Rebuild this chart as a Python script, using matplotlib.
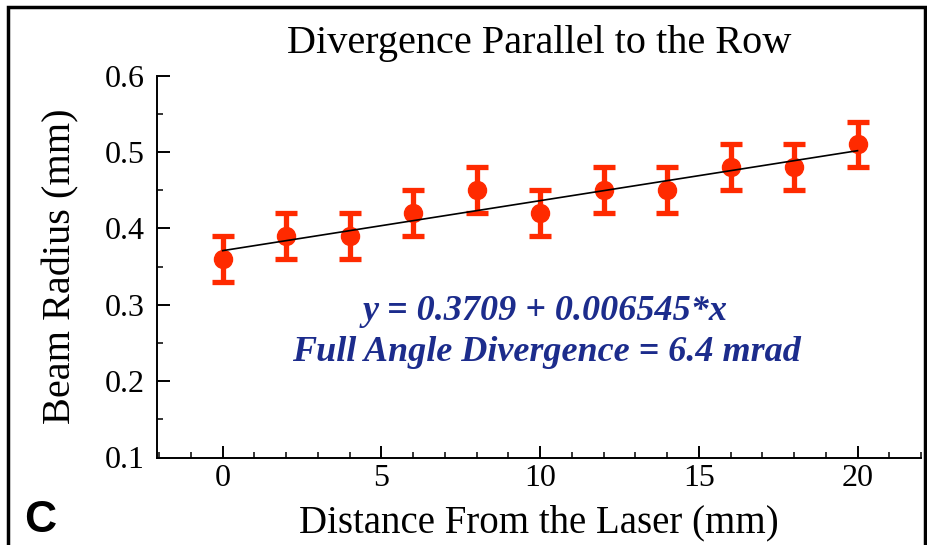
import matplotlib
matplotlib.use("Agg")
import matplotlib.pyplot as plt
from matplotlib.ticker import MultipleLocator, FormatStrFormatter
from matplotlib.patches import Rectangle

distance = [0, 2, 4, 6, 8, 10, 12, 14, 16, 18, 20]
radius = [0.36, 0.39, 0.39, 0.42, 0.45, 0.42, 0.45, 0.45, 0.48, 0.48, 0.51]
err = [0.03] * 11
intercept = 0.3709
slope = 0.006545
fit_x = [0, 20]

plt.rcParams['font.family'] = ['Liberation Serif', 'DejaVu Serif']

fig = plt.figure(figsize=(9.28, 5.45), dpi=100)
ax = fig.add_axes([157/928, 1-457.5/545, (921-157)/928, (457.5-75.7)/545])

ax.plot(fit_x, [intercept + slope*v for v in fit_x], color='black', lw=1.2, zorder=3)
ax.errorbar(distance, radius, yerr=err, fmt='o', color='#ff2a00', ms=13,
            elinewidth=3.8, capsize=8, capthick=3.8, zorder=2)

ax.set_xlim(-2.07, 22.0)
ax.set_ylim(0.1, 0.6)
ax.xaxis.set_major_locator(MultipleLocator(5))
ax.xaxis.set_minor_locator(MultipleLocator(1))
ax.yaxis.set_major_locator(MultipleLocator(0.1))
ax.yaxis.set_minor_locator(MultipleLocator(0.05))
ax.yaxis.set_major_formatter(FormatStrFormatter('%.1f'))
for s in ['top', 'right']:
    ax.spines[s].set_visible(False)
for s in ['left', 'bottom']:
    ax.spines[s].set_linewidth(1.4)
ax.tick_params(which='major', direction='in', length=9, width=1.4, labelsize=23)
ax.tick_params(axis='y', which='major', pad=9)
ax.tick_params(axis='x', which='major', pad=5)
ax.tick_params(which='minor', direction='in', length=4, width=1.1)

ax.set_title('Divergence Parallel to the Row', fontsize=29, pad=16)
ax.set_xlabel('Distance From the Laser (mm)', fontsize=28, labelpad=8)
ax.set_ylabel('Beam Radius (mm)', fontsize=29, labelpad=18)

blue = '#1c2c8c'
ax.text(10.17, 0.2907, 'y = 0.3709 + 0.006545*x', color=blue, fontsize=26,
        fontweight='bold', fontstyle='italic', ha='center', va='center')
ax.text(10.2, 0.238, 'Full Angle Divergence = 6.4 mrad', color=blue, fontsize=26,
        fontweight='bold', fontstyle='italic', ha='center', va='center')

fig.text(24/928, 1-520/545, 'C', fontsize=32, fontweight='bold',
         family=['Liberation Sans', 'DejaVu Sans'], ha='left', va='center')

fig.patches.append(Rectangle((8/928, -0.1), (925-8)/928, 1.1 - 7/545,
                             transform=fig.transFigure, fill=False,
                             edgecolor='black', lw=2.5))

fig.savefig('out.png', dpi=100)
